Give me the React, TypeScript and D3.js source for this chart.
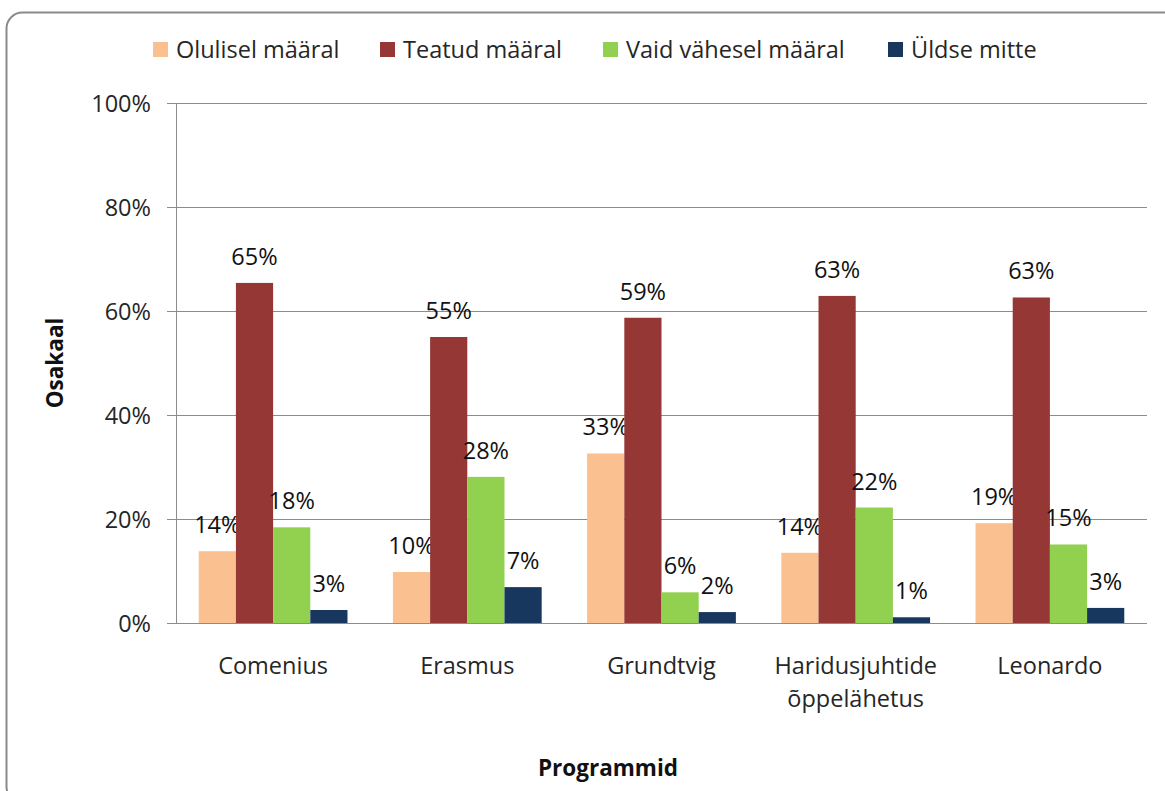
import React, { useRef, useEffect } from 'react';
import * as d3 from 'd3';

const categories = ['Comenius', 'Erasmus', 'Grundtvig', 'Haridusjuhtide õppelähetus', 'Leonardo'];
const seriesNames = ['Olulisel määral', 'Teatud määral', 'Vaid vähesel määral', 'Üldse mitte'];
const olulisel = [13.8, 9.8, 32.6, 13.5, 19.2];
const teatud = [65.4, 55.0, 58.7, 62.9, 62.6];
const vaid = [18.4, 28.1, 5.9, 22.2, 15.1];
const yldse = [2.5, 6.9, 2.1, 1.1, 2.9];
const yTicks = [0, 20, 40, 60, 80, 100];
const colors = ['#FAC090', '#953735', '#92D050', '#17375E'];

const W = 1165;
const H = 791;
const FONT = '"Open Sans", Lato, sans-serif';
const FS = 23.5;

const App = () => {
  const svgRef = useRef<SVGSVGElement>(null);

  useEffect(() => {
    if (!svgRef.current) return;
    const svg = d3.select(svgRef.current);
    svg.selectAll('*').remove();

    const series = [olulisel, teatud, vaid, yldse];
    const left = 176, right = 1147, top = 103, bottom = 623;

    const x0 = d3.scaleBand().domain(categories).range([left, right]);
    const gw = x0.bandwidth();
    const x1 = d3.scaleBand().domain(seriesNames).range([gw * 0.117, gw * 0.883]);
    const y = d3.scaleLinear().domain([0, 100]).range([bottom, top]);

    // frame
    svg.append('rect')
      .attr('x', 6.5).attr('y', 12.5)
      .attr('width', 1175).attr('height', 790)
      .attr('rx', 16)
      .attr('fill', '#fff')
      .attr('stroke', '#8a8a8a')
      .attr('stroke-width', 2);

    // gridlines + ticks
    const grid = svg.append('g');
    yTicks.forEach(t => {
      grid.append('line')
        .attr('x1', left - 9).attr('x2', right)
        .attr('y1', y(t) + 0.5).attr('y2', y(t) + 0.5)
        .attr('stroke', '#8c8c8c').attr('stroke-width', 1);
      grid.append('text')
        .attr('x', 151).attr('y', y(t) + 8.5)
        .attr('text-anchor', 'end')
        .attr('font-family', FONT).attr('font-size', FS)
        .attr('fill', '#262626')
        .text(`${t}%`);
    });
    grid.append('line')
      .attr('x1', left + 0.5).attr('x2', left + 0.5)
      .attr('y1', top).attr('y2', bottom)
      .attr('stroke', '#8c8c8c');

    // bars
    series.forEach((vals, si) => {
      const g = svg.append('g');
      g.selectAll('rect')
        .data(vals)
        .join('rect')
        .attr('x', (d, i) => (x0(categories[i]) as number) + (x1(seriesNames[si]) as number))
        .attr('width', x1.bandwidth())
        .attr('y', d => y(d))
        .attr('height', d => y(0) - y(d))
        .attr('fill', colors[si]);
      g.selectAll('text')
        .data(vals)
        .join('text')
        .attr('x', (d, i) => (x0(categories[i]) as number) + (x1(seriesNames[si]) as number) + x1.bandwidth() / 2)
        .attr('y', d => y(d) - 18)
        .attr('text-anchor', 'middle')
        .attr('font-family', FONT).attr('font-size', FS)
        .attr('fill', '#111')
        .text(d => `${Math.round(d)}%`);
    });

    // baseline
    svg.append('line')
      .attr('x1', left - 9).attr('x2', right)
      .attr('y1', bottom + 0.5).attr('y2', bottom + 0.5)
      .attr('stroke', '#8c8c8c');

    // category labels
    categories.forEach(c => {
      const cx = (x0(c) as number) + gw / 2;
      const words = c === 'Haridusjuhtide õppelähetus' ? ['Haridusjuhtide', 'õppelähetus'] : [c];
      words.forEach((w, li) => {
        svg.append('text')
          .attr('x', cx).attr('y', 674 + li * 33)
          .attr('text-anchor', 'middle')
          .attr('font-family', FONT).attr('font-size', FS)
          .attr('fill', '#262626')
          .text(w);
      });
    });

    // axis titles
    svg.append('text')
      .attr('transform', `translate(63,${(top + bottom) / 2}) rotate(-90)`)
      .attr('text-anchor', 'middle')
      .attr('font-family', FONT).attr('font-size', 22.5).attr('font-weight', 'bold')
      .attr('fill', '#111')
      .text('Osakaal');
    svg.append('text')
      .attr('x', 608).attr('y', 776)
      .attr('text-anchor', 'middle')
      .attr('font-family', FONT).attr('font-size', 22.5).attr('font-weight', 'bold')
      .attr('fill', '#111')
      .text('Programmid');

    // legend
    const legendX = [153, 380, 603, 888];
    seriesNames.forEach((s, i) => {
      svg.append('rect')
        .attr('x', legendX[i]).attr('y', 42)
        .attr('width', 15).attr('height', 15)
        .attr('fill', colors[i]);
      svg.append('text')
        .attr('x', legendX[i] + 23).attr('y', 57.5)
        .attr('font-family', FONT).attr('font-size', FS)
        .attr('fill', '#262626')
        .text(s);
    });
  }, []);

  return (
    <svg ref={svgRef} width={W} height={H}
      style={{ position: 'absolute', left: 0, top: 0, display: 'block' }} />
  );
};

export default App;
